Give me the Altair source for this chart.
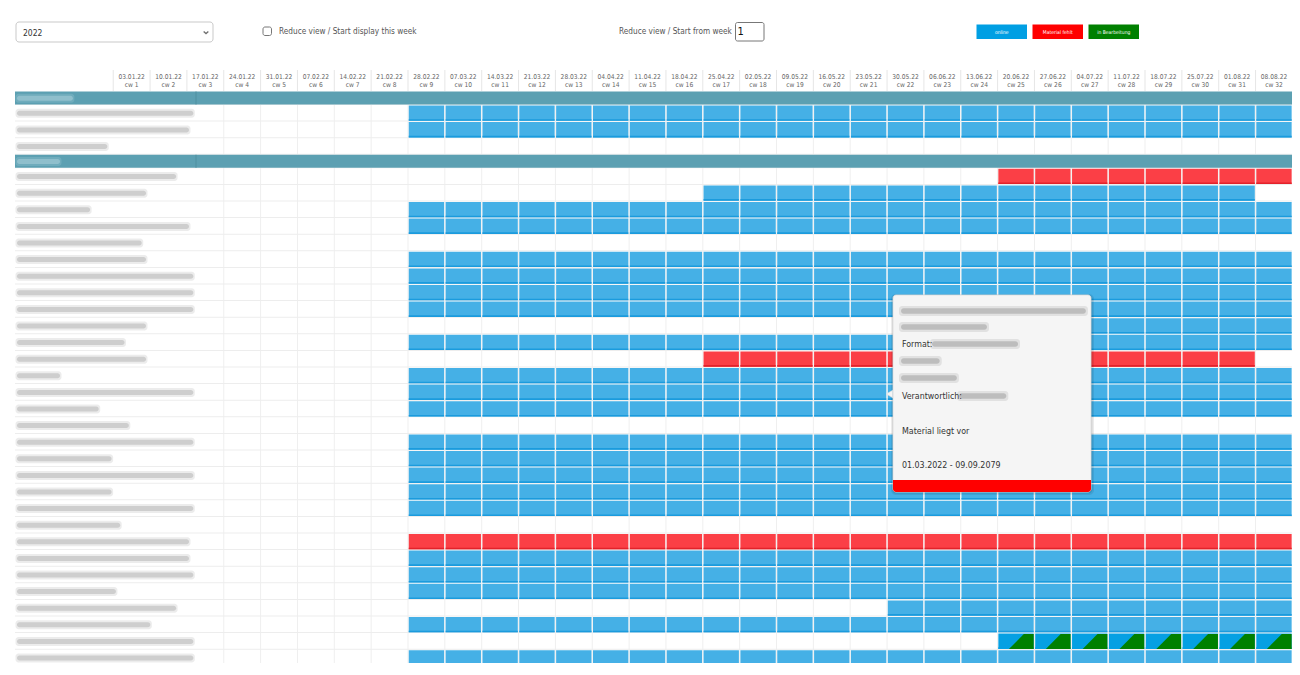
import altair as alt
import pandas as pd

# ---------------- data ----------------
year_label = "2022"
week_numbers = list(range(1, 33))
week_dates = ["03.01.22", "10.01.22", "17.01.22", "24.01.22", "31.01.22", "07.02.22",
              "14.02.22", "21.02.22", "28.02.22", "07.03.22", "14.03.22", "21.03.22",
              "28.03.22", "04.04.22", "11.04.22", "18.04.22", "25.04.22", "02.05.22",
              "09.05.22", "16.05.22", "23.05.22", "30.05.22", "06.06.22", "13.06.22",
              "20.06.22", "27.06.22", "04.07.22", "11.07.22", "18.07.22", "25.07.22",
              "01.08.22", "08.08.22"]
row_kind = ["group", "item", "item", "item", "group"] + ["item"] * 31
# length (in characters) of the blurred row labels
label_chars = [13, 41, 40, 21, 10, 37, 30, 17, 40, 29,
               30, 41, 41, 41, 30, 25, 30, 10, 41, 19,
               26, 41, 22, 41, 22, 41, 24, 40, 40, 41,
               23, 37, 31, 41, 41, 31]
ON, MF, IB = "online", "Material fehlt", "in Bearbeitung"
bar_start = [None, 9, 9, None, None, 25, 17, 9, 9, None,
             9, 9, 9, 9, 23, 9, 17, 9, 9, 9,
             None, 9, 9, 9, 9, 9, None, 9, 9, 9,
             9, 22, 9, 25, 9, 25]
bar_end = [None, 32, 32, None, None, 32, 31, 32, 32, None,
           32, 32, 32, 32, 32, 32, 31, 32, 32, 32,
           None, 32, 32, 32, 32, 32, None, 32, 32, 32,
           32, 32, 32, 32, 32, 32]
bar_status = [None, ON, ON, None, None, MF, ON, ON, ON, None,
              ON, ON, ON, ON, ON, ON, MF, ON, ON, ON,
              None, ON, ON, ON, ON, ON, None, MF, ON, ON,
              ON, ON, ON, IB, ON, ON]
legend_labels = [ON, MF, IB]
legend_colors = ["#009FE3", "#FF0000", "#008000"]
tooltip_labels = ["", "", "Format:", "", "", "Verantwortlich:", "Material liegt vor",
                  "01.03.2022 - 09.09.2079"]
tooltip_blur_chars = [43, 20, 20, 9, 13, 11, 0, 0]

# ---------------- layout / style ----------------
W, H = 1284, 655
OFF = 8
FONT = "DejaVu Sans Condensed, sans-serif"
COL0, CW = 113.2, 36.85
BODY_TOP, GROUP_H, ROW_H = 91.0, 13.5, 16.6
CHAR_W = 4.3
TEAL = "#5CA0B2"
cell_fill = {ON: "#45B0E6", MF: "#FB3F46", IB: "#05A0E3"}
cell_edge = {ON: "#1B9BDD", MF: "#E3222B", IB: "#05A0E3"}
blur_col = {"group": "#a3cbd6", "item": "#bcbcbc"}

xs = alt.Scale(domain=[0, W], nice=False, zero=False)
ys = alt.Scale(domain=[0, H], nice=False, zero=False, reverse=True)
XE = lambda f="x:Q": alt.X(f, scale=xs, axis=None)
YE = lambda f="y:Q": alt.Y(f, scale=ys, axis=None)


def P(v):
    return v - OFF


def col_left(k):
    return COL0 + (k - 1) * CW


def rects(records, colored=False, **mk):
    df = pd.DataFrame(records)
    enc = dict(x=XE(), x2="x2:Q", y=YE(), y2="y2:Q")
    if colored:
        enc["fill"] = alt.Fill("c:N", scale=None, legend=None)
    return alt.Chart(df).mark_rect(**mk).encode(**enc)


def texts(records, **mk):
    df = pd.DataFrame(records)
    base = dict(font=FONT, baseline="middle")
    base.update(mk)
    return alt.Chart(df).mark_text(**base).encode(x=XE(), y=YE(), text="t:N")


def R(x0, y0, x1, y1, **extra):
    d = dict(x=P(x0), x2=P(x1), y=P(y0), y2=P(y1))
    d.update(extra)
    return d


# row geometry
tops, bottoms = [], []
cur = BODY_TOP
for kind in row_kind:
    h = GROUP_H if kind == "group" else ROW_H
    tops.append(cur)
    bottoms.append(cur + h)
    cur += h

layers = []

# background
layers.append(rects([R(OFF, OFF, OFF + W, OFF + H)], fill="white"))

# ---- top controls ----
layers.append(rects([R(16, 22, 213, 42)], fill="white", stroke="#c9c9c9",
                    strokeWidth=1, cornerRadius=3))
layers.append(texts([dict(x=P(23), y=P(32.5), t=year_label)], align="left",
                    fontSize=8.5, color="#333333"))
layers.append(alt.Chart(pd.DataFrame([dict(x=P(206), y=P(32.5))])).mark_point(
    shape="M -1 -0.45 L 0 0.45 L 1 -0.45", filled=False, stroke="#333333",
    strokeWidth=1.3, size=22).encode(x=XE(), y=YE()))
layers.append(rects([R(263, 27, 271.5, 35.5)], fill="white", stroke="#777777",
                    strokeWidth=1, cornerRadius=2))
layers.append(texts([dict(x=P(279), y=P(32), t="Reduce view / Start display this week")],
                    align="left", fontSize=8.2, color="#555555"))
layers.append(texts([dict(x=P(619), y=P(32), t="Reduce view / Start from week")],
                    align="left", fontSize=8.2, color="#555555"))
layers.append(rects([R(735.5, 22.5, 764, 41)], fill="white", stroke="#777777",
                    strokeWidth=1, cornerRadius=2))
layers.append(texts([dict(x=P(737.5), y=P(32), t="1")], align="left", fontSize=11,
                    color="#111111"))
leg = []
for i, (lab, colr) in enumerate(zip(legend_labels, legend_colors)):
    x0 = 976.5 + i * 56
    leg.append(R(x0, 24.5, x0 + 50.5, 39, t=lab, c=colr, xm=P(x0 + 25.25), ym=P(31.8)))
legdf = pd.DataFrame(leg)
layers.append(rects(leg, colored=True))
layers.append(alt.Chart(legdf).mark_text(font=FONT, fontSize=5, color="white",
                                         baseline="middle", align="center").encode(
    x=XE("xm:Q"), y=YE("ym:Q"), text="t:N"))

# ---- header ----
right_edge = col_left(33)
hsep = [R(col_left(k) - 0.5, 70, col_left(k) + 0.5, BODY_TOP) for k in range(1, 33)]
layers.append(rects(hsep, fill="#e6e6e6"))
layers.append(texts([dict(x=P(col_left(k) + CW / 2), y=P(76.5), t=d)
                     for k, d in zip(week_numbers, week_dates)],
                    align="center", fontSize=6.6, color="#666666"))
layers.append(texts([dict(x=P(col_left(k) + CW / 2), y=P(85.2), t=f"cw {k}")
                     for k in week_numbers],
                    align="center", fontSize=6.6, color="#666666"))

# ---- body grid ----
vgrid = []
for i, kind in enumerate(row_kind):
    if kind == "item":
        for k in range(4, 33):
            x = col_left(k)
            vgrid.append(R(x - 0.5, tops[i], x + 0.5, bottoms[i]))
layers.append(rects(vgrid, fill="#efefef"))
hgrid = [R(15, bottoms[i] - 0.5, right_edge, bottoms[i] + 0.5)
         for i, kind in enumerate(row_kind)]
layers.append(rects(hgrid, fill="#ededed"))

# group bands
gb = [R(15, tops[i] + 0.5, right_edge, bottoms[i]) for i, k in enumerate(row_kind)
      if k == "group"]
layers.append(rects(gb, fill=TEAL))
gdiv = [R(195.5, tops[i] + 0.5, 196.5, bottoms[i]) for i, k in enumerate(row_kind)
        if k == "group"]
layers.append(rects(gdiv, fill="#4f8fa0"))

# blurred labels
halo, core = [], []
for i, (kind, n) in enumerate(zip(row_kind, label_chars)):
    yc = (tops[i] + bottoms[i]) / 2 + 0.5
    x1 = 17 + n * CHAR_W
    halo.append(R(15.5, yc - 4.5, x1 + 1.5, yc + 4.5, c=blur_col[kind]))
    core.append(R(17, yc - 2.5, x1, yc + 2.5, c=blur_col[kind]))
layers.append(rects(halo, colored=True, opacity=0.28, cornerRadius=3))
layers.append(rects(core, colored=True, opacity=0.62, cornerRadius=3))

# ---- bars ----
cells, edges, tri = [], [], []
for i in range(len(row_kind)):
    s, e, st = bar_start[i], bar_end[i], bar_status[i]
    if s is None:
        continue
    for k in range(s, e + 1):
        l, r = col_left(k) + 0.75, col_left(k + 1) - 0.75
        t, b = tops[i] + 1.0, bottoms[i] - 0.3
        cells.append(R(l, t, r, b, c=cell_fill[st]))
        edges.append(R(l, b - 1.6, r, b, c=cell_edge[st]))
        if st == IB:
            w = r - l
            for fx, top_y in ((0.30, b), (0.72, t + 0.5), (1.0, t + 0.5)):
                tri.append(dict(x=P(l + fx * w), y=P(top_y), y2=P(b), cell=f"{i}-{k}"))
layers.append(rects(cells, colored=True))
layers.append(rects(edges, colored=True))
layers.append(alt.Chart(pd.DataFrame(tri)).mark_area(color="#008000", orient="vertical",
                                                      interpolate="linear").encode(
    x=XE(), y=YE(), y2="y2:Q", detail="cell:N"))

# ---- tooltip ----
TX0, TY0, TX1, TY1 = 893, 295, 1091, 492
layers.append(rects([R(TX0 - 2, TY0 - 1, TX1 + 3, TY1 + 3)], fill="#000000",
                    opacity=0.08, cornerRadius=5))
layers.append(rects([R(TX0 - 1, TY0, TX1 + 1.5, TY1 + 1.5)], fill="#000000",
                    opacity=0.10, cornerRadius=4))
layers.append(rects([R(TX0, TY0, TX1, TY1)], fill="#f5f5f5", stroke="#dddddd",
                    strokeWidth=0.8, cornerRadius=3))
layers.append(alt.Chart(pd.DataFrame([dict(x=P(889.5), y=P(394))])).mark_point(
    shape="triangle-left", filled=True, fill="#f5f5f5", stroke="#dddddd",
    strokeWidth=0.6, size=55, opacity=1).encode(x=XE(), y=YE()))
layers.append(rects([R(TX0, 480, TX1, TY1)], fill="#FF0000",
                    cornerRadiusBottomLeft=3, cornerRadiusBottomRight=3))
line_y = [311, 327, 344, 361, 378, 396, 431, 465]
lab_w = {"Format:": 30, "Verantwortlich:": 57}
trecs, thalo, tcore = [], [], []
for lab, nb, yy in zip(tooltip_labels, tooltip_blur_chars, line_y):
    if lab:
        trecs.append(dict(x=P(902), y=P(yy), t=lab))
    if nb:
        x0 = 902 + lab_w.get(lab, 0) if lab else 901
        x1 = x0 + nb * CHAR_W
        thalo.append(R(x0 - 2, yy - 5, x1 + 2, yy + 5))
        tcore.append(R(x0, yy - 2.8, x1, yy + 2.8))
layers.append(rects(thalo, fill="#9a9a9a", opacity=0.22, cornerRadius=3))
layers.append(rects(tcore, fill="#9a9a9a", opacity=0.5, cornerRadius=3))
layers.append(texts(trecs, align="left", fontSize=8.8, color="#333333"))

chart = alt.layer(*layers).properties(
    width=W, height=H, padding=0, autosize=alt.AutoSizeParams(type="none"),
    background="white"
).configure_view(stroke=None)

chart.save("out.html", embed_options={"renderer": "svg", "actions": False})
